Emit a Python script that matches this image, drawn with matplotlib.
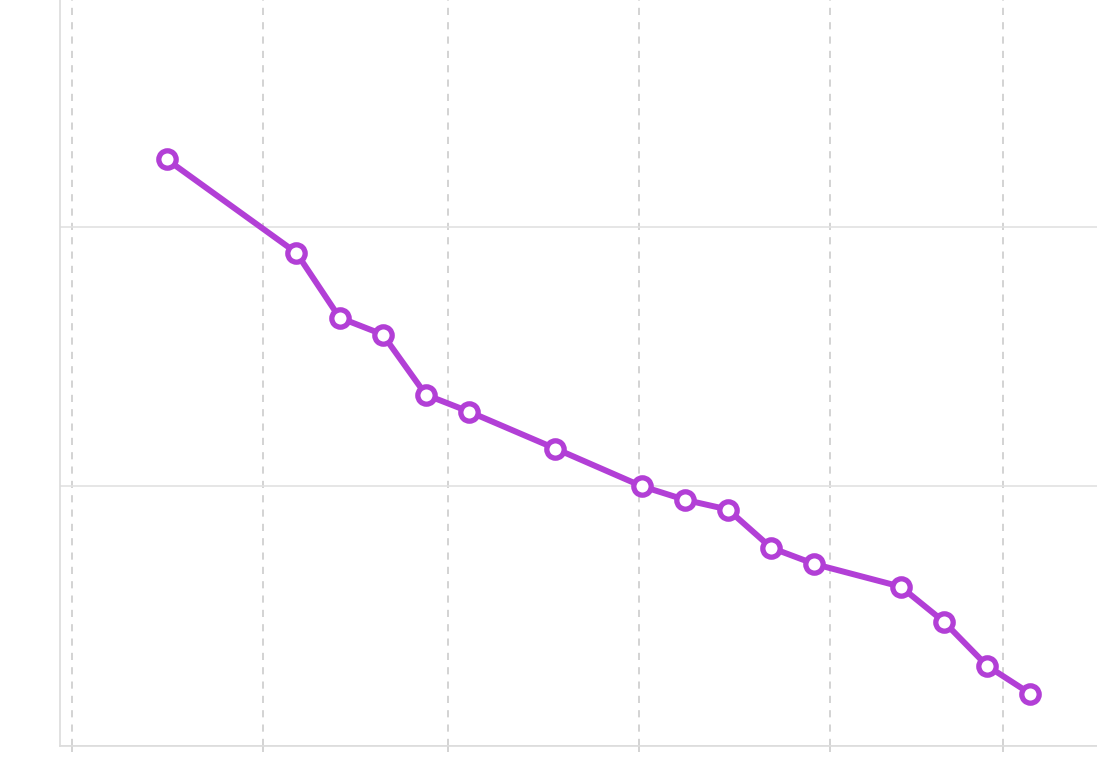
import matplotlib
matplotlib.use("Agg")
import matplotlib.pyplot as plt
import numpy as np

dates = ["2022-10-16", "2022-11-06", "2022-11-13", "2022-11-20", "2022-11-27",
         "2022-12-04", "2022-12-18", "2023-01-01", "2023-01-08", "2023-01-15",
         "2023-01-22", "2023-01-29", "2023-02-12", "2023-02-19", "2023-02-26",
         "2023-03-05"]
values = [45.2, 38.0, 33.0, 31.7, 27.05, 25.75, 22.9, 20.0, 18.95, 18.2,
          15.25, 14.0, 12.25, 9.55, 6.15, 4.0]
month_ticks = ["2022-10-01", "2022-11-01", "2022-12-01", "2023-01-01",
               "2023-02-01", "2023-03-01"]
y_ticks = [0, 20, 40]

x = np.array(dates, dtype="datetime64[h]") + np.timedelta64(10, "h")
xt = np.array(month_ticks, dtype="datetime64[D]")

fig = plt.figure(figsize=(10.97, 7.58), dpi=100)
ax = fig.add_axes([59.5 / 1097, 12.5 / 758, 1 - 59.5 / 1097, 1 - 12.5 / 758])

color = "#B23FD6"
ax.plot(x, values, color=color, lw=4.3, marker="o", markersize=12.5,
        markerfacecolor="white", markeredgecolor=color, markeredgewidth=3.8,
        zorder=3, solid_capstyle="round", solid_joinstyle="round")

ax.set_xlim(np.datetime64("2022-09-29T00:00"), np.datetime64("2023-03-16T06:00"))
ax.set_ylim(0, 57.5)
ax.set_xticks(xt)
ax.set_yticks(y_ticks)
ax.set_xticklabels([])
ax.set_yticklabels([])
ax.grid(axis="x", color="#cccccc", linestyle=(0, (4.3, 4.3)), lw=1.2)
ax.grid(axis="y", color="#e2e2e2", linestyle="-", lw=1.2)
ax.tick_params(axis="x", length=4, color="#cccccc", width=1.2)
ax.tick_params(axis="y", length=0)
for s in ["top", "right"]:
    ax.spines[s].set_visible(False)
for s in ["left", "bottom"]:
    ax.spines[s].set_color("#dcdcdc")
    ax.spines[s].set_linewidth(1.2)
ax.set_axisbelow(True)

fig.savefig("out.png", dpi=100)
